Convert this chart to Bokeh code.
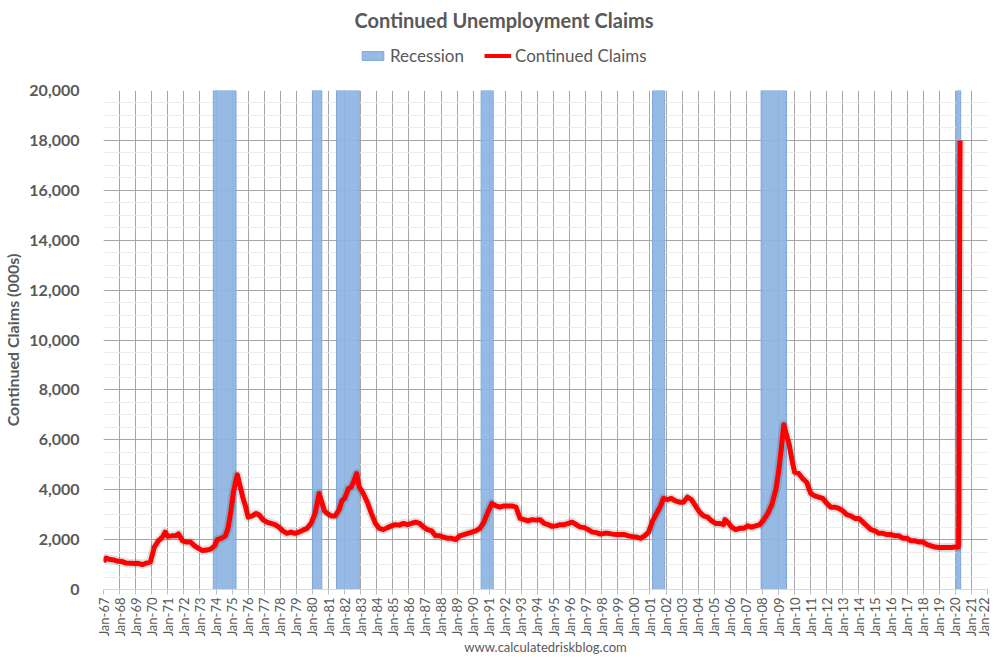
import math
import pandas as pd
from bokeh.plotting import figure
from bokeh.layouts import column
from bokeh.models import (FixedTicker, NumeralTickFormatter, Legend, LegendItem,
                          Range1d, ColumnDataSource)
from bokeh.embed import file_html
from bokeh.resources import INLINE

# ---------------- data ----------------
claim_dates = [
    "1967-01", "1967-03", "1967-06", "1967-09", "1967-12",
    "1968-03", "1968-06", "1968-09", "1968-12",
    "1969-03", "1969-06", "1969-09", "1969-12",
    "1970-03", "1970-06", "1970-09", "1970-11",
    "1971-01", "1971-04", "1971-07", "1971-09", "1971-12",
    "1972-03", "1972-06", "1972-09", "1972-12",
    "1973-03", "1973-06", "1973-09", "1973-12",
    "1974-02", "1974-05", "1974-08", "1974-10", "1974-12",
    "1975-02", "1975-04", "1975-05", "1975-07", "1975-09", "1975-11",
    "1976-01", "1976-04", "1976-07", "1976-09", "1976-12",
    "1977-03", "1977-06", "1977-09", "1977-12",
    "1978-03", "1978-06", "1978-09", "1978-12",
    "1979-03", "1979-06", "1979-09", "1979-12",
    "1980-03", "1980-06", "1980-08", "1980-10", "1980-12",
    "1981-03", "1981-06", "1981-09", "1981-11",
    "1982-01", "1982-04", "1982-06", "1982-08", "1982-10", "1982-12",
    "1983-03", "1983-06", "1983-09", "1983-12",
    "1984-03", "1984-06", "1984-09", "1984-12",
    "1985-03", "1985-06", "1985-09", "1985-12",
    "1986-03", "1986-06", "1986-09", "1986-12",
    "1987-03", "1987-06", "1987-09", "1987-12",
    "1988-03", "1988-06", "1988-09", "1988-12",
    "1989-03", "1989-06", "1989-09", "1989-12",
    "1990-03", "1990-06", "1990-09", "1990-12",
    "1991-03", "1991-06", "1991-09", "1991-12",
    "1992-03", "1992-06", "1992-09", "1992-12",
    "1993-03", "1993-06", "1993-09", "1993-12",
    "1994-03", "1994-06", "1994-09", "1994-12",
    "1995-03", "1995-06", "1995-09", "1995-12",
    "1996-03", "1996-06", "1996-09", "1996-12",
    "1997-03", "1997-06", "1997-09", "1997-12",
    "1998-03", "1998-06", "1998-09", "1998-12",
    "1999-03", "1999-06", "1999-09", "1999-12",
    "2000-03", "2000-06", "2000-09", "2000-12",
    "2001-03", "2001-06", "2001-09", "2001-11",
    "2002-02", "2002-05", "2002-08", "2002-11",
    "2003-02", "2003-05", "2003-08", "2003-11",
    "2004-02", "2004-05", "2004-08", "2004-11",
    "2005-02", "2005-05", "2005-08", "2005-09", "2005-11",
    "2006-02", "2006-05", "2006-08", "2006-11",
    "2007-02", "2007-05", "2007-08", "2007-11",
    "2008-02", "2008-05", "2008-08", "2008-11",
    "2009-01", "2009-03", "2009-05", "2009-07", "2009-09", "2009-11",
    "2010-01", "2010-04", "2010-07", "2010-10",
    "2011-01", "2011-04", "2011-07", "2011-10",
    "2012-01", "2012-04", "2012-07", "2012-10",
    "2013-01", "2013-04", "2013-07", "2013-10",
    "2014-01", "2014-04", "2014-07", "2014-10",
    "2015-01", "2015-04", "2015-07", "2015-10",
    "2016-01", "2016-04", "2016-07", "2016-10",
    "2017-01", "2017-04", "2017-07", "2017-10",
    "2018-01", "2018-04", "2018-07", "2018-10",
    "2019-01", "2019-04", "2019-07", "2019-10",
    "2020-01", "2020-03-07", "2020-03-14", "2020-03-21", "2020-03-28",
    "2020-04-04", "2020-04-11", "2020-04-18",
]
claim_values = [
    1110, 1260, 1200, 1180, 1130,
    1120, 1060, 1050, 1040,
    1050, 1000, 1060, 1100,
    1700, 1950, 2100, 2300,
    2130, 2150, 2150, 2230, 1950,
    1900, 1900, 1750, 1650,
    1560, 1580, 1620, 1750,
    2000, 2050, 2150, 2450, 3100,
    3900, 4400, 4600, 4150, 3700, 3350,
    2900, 2950, 3050, 3000, 2800,
    2700, 2650, 2600, 2500,
    2350, 2250, 2300, 2250,
    2300, 2380, 2450, 2650,
    3050, 3850, 3500, 3150, 3050,
    2950, 2950, 3200, 3550,
    3650, 4050, 4100, 4350, 4650, 4100,
    3850, 3500, 3050, 2650,
    2450, 2400, 2480, 2550,
    2600, 2580, 2650, 2600,
    2650, 2700, 2650, 2500,
    2400, 2350, 2150, 2150,
    2100, 2050, 2050, 2000,
    2150, 2200, 2250, 2300,
    2350, 2450, 2700, 3100,
    3450, 3350, 3300, 3350,
    3350, 3350, 3300, 2850,
    2800, 2750, 2800, 2780,
    2800, 2650, 2600, 2530,
    2550, 2600, 2600, 2650,
    2700, 2600, 2500, 2480,
    2400, 2300, 2280, 2220,
    2250, 2250, 2220, 2200,
    2200, 2200, 2150, 2120,
    2100, 2050, 2150, 2300,
    2750, 3050, 3350, 3650,
    3600, 3650, 3550, 3500,
    3500, 3700, 3600, 3350,
    3100, 2950, 2900, 2750,
    2650, 2650, 2600, 2800, 2700,
    2500, 2400, 2450, 2450,
    2550, 2500, 2550, 2600,
    2800, 3050, 3400, 4000,
    4700, 5600, 6600, 6200, 5800, 5200,
    4700, 4650, 4450, 4300,
    3850, 3750, 3700, 3650,
    3450, 3300, 3300, 3250,
    3150, 3000, 2950, 2850,
    2850, 2700, 2550, 2400,
    2350, 2250, 2250, 2200,
    2200, 2150, 2150, 2050,
    2050, 1950, 1950, 1900,
    1900, 1800, 1750, 1700,
    1680, 1680, 1680, 1680,
    1700, 1700, 1784, 3029, 7446,
    11914, 15819, 17992,
]
recession_starts = ["1973-11", "1980-01", "1981-07", "1990-07", "2001-03", "2007-12", "2020-02"]
recession_ends = ["1975-03", "1980-07", "1982-11", "1991-03", "2001-11", "2009-06", "2020-04"]
tick_years = list(range(1967, 2023))
x_tick_labels = ["Jan-%02d" % (y % 100) for y in tick_years]
y_ticks = list(range(0, 20001, 2000))
y_minor = list(range(0, 20001, 500))

# ---------------- helpers ----------------
def dec_year(ts):
    ts = pd.Timestamp(ts)
    days = 366 if ts.is_leap_year else 365
    return ts.year + (ts.dayofyear - 1) / days

line_src = ColumnDataSource(dict(x=[dec_year(d) for d in claim_dates], y=claim_values))
rec_src = ColumnDataSource(dict(
    left=[dec_year(s) for s in recession_starts],
    right=[dec_year(pd.Timestamp(e) + pd.offsets.MonthBegin(1)) for e in recession_ends],
    bottom=[0] * len(recession_starts),
    top=[20000] * len(recession_starts),
))

FONT = "Lato"
GREY_TXT = "#595959"
GRID = "#A6A6A6"
REC_FILL = "#8DB4E2"
REC_LINE = "#7FA7DA"
LEFT = 100
RIGHT = 4

# ---------------- header: title + legend ----------------
head = figure(width=991, height=80, x_range=Range1d(0, 1), y_range=Range1d(0, 1),
              output_backend="svg", toolbar_location=None,
              min_border_left=LEFT, min_border_right=RIGHT, min_border_top=32, min_border_bottom=0)
head.outline_line_color = None
head.axis.visible = False
head.grid.visible = False
head.title.text = "Continued Unemployment Claims"
head.title.align = "left"
head.title.offset = 251
head.title.text_font = FONT
head.title.text_font_size = "20px"
head.title.text_font_style = "bold"
head.title.text_color = GREY_TXT

# legend proxies: same styling as the chart marks, kept outside the header's visible range
leg_src = ColumnDataSource(dict(left=[5], right=[6], bottom=[5], top=[6]))
leg_rec = head.quad(left="left", right="right", bottom="bottom", top="top", source=leg_src,
                    fill_color=REC_FILL, fill_alpha=0.92, line_color=REC_LINE, line_width=1)
leg_ln = head.line(x="left", y="bottom", source=leg_src, line_color="#FF0000", line_width=4)
legend = Legend(items=[LegendItem(label="Recession", renderers=[leg_rec]),
                       LegendItem(label="Continued Claims", renderers=[leg_ln])],
                orientation="horizontal", location=(256, 14),
                glyph_width=27, glyph_height=11, label_standoff=4, spacing=20,
                padding=0, margin=0, border_line_color=None, background_fill_alpha=0,
                label_text_font=FONT, label_text_font_size="17px", label_text_color=GREY_TXT)
head.add_layout(legend, "center")

# ---------------- main chart ----------------
p = figure(width=991, height=578, x_range=Range1d(1967, 2022), y_range=Range1d(0, 20000),
           output_backend="svg", toolbar_location=None,
           min_border_left=LEFT, min_border_right=RIGHT, min_border_top=10, min_border_bottom=60)
p.outline_line_color = None
p.background_fill_color = "white"

p.quad(left="left", right="right", bottom="bottom", top="top", source=rec_src,
       fill_color=REC_FILL, fill_alpha=0.92, line_color=REC_LINE, line_width=1)
p.line("x", "y", source=line_src, line_color="#000000", line_alpha=0.12, line_width=9,
       line_join="round")
p.line("x", "y", source=line_src, line_color="#FF0000", line_width=5, line_join="round")

xax = p.xaxis[0]
xax.ticker = FixedTicker(ticks=tick_years)
xax.major_label_overrides = {y: lab for y, lab in zip(tick_years, x_tick_labels)}
xax.major_label_orientation = math.pi / 2
xax.major_label_text_font = FONT
xax.major_label_text_font_size = "13px"
xax.major_label_text_color = GREY_TXT
xax.major_label_standoff = 3
xax.major_tick_out = 5
xax.major_tick_in = 0
xax.major_tick_line_color = "#BFBFBF"
xax.minor_tick_line_color = None
xax.axis_line_color = "#D9D9D9"
xax.axis_label = "www.calculatedriskblog.com"
xax.axis_label_text_font = FONT
xax.axis_label_text_font_size = "13px"
xax.axis_label_text_font_style = "normal"
xax.axis_label_text_color = GREY_TXT
xax.axis_label_standoff = 0

yax = p.yaxis[0]
yax.ticker = FixedTicker(ticks=y_ticks)
yax.formatter = NumeralTickFormatter(format="0,0")
yax.major_label_text_font = FONT
yax.major_label_text_font_size = "16px"
yax.major_label_text_font_style = "bold"
yax.major_label_text_color = GREY_TXT
yax.major_label_standoff = 18
yax.major_tick_line_color = None
yax.minor_tick_line_color = None
yax.axis_line_color = None
yax.axis_label = "Continued Claims (000s)"
yax.axis_label_text_font = FONT
yax.axis_label_text_font_size = "16px"
yax.axis_label_text_font_style = "bold"
yax.axis_label_text_color = GREY_TXT
yax.axis_label_standoff = 4

p.xgrid.ticker = FixedTicker(ticks=tick_years)
p.xgrid.grid_line_color = GRID
p.ygrid.ticker = FixedTicker(ticks=y_ticks[1:], minor_ticks=y_minor)
p.ygrid.grid_line_color = GRID
p.ygrid.minor_grid_line_color = "#EBEBEB"

layout = column(head, p, spacing=0)
open("out.html", "w").write(file_html(layout, INLINE))
